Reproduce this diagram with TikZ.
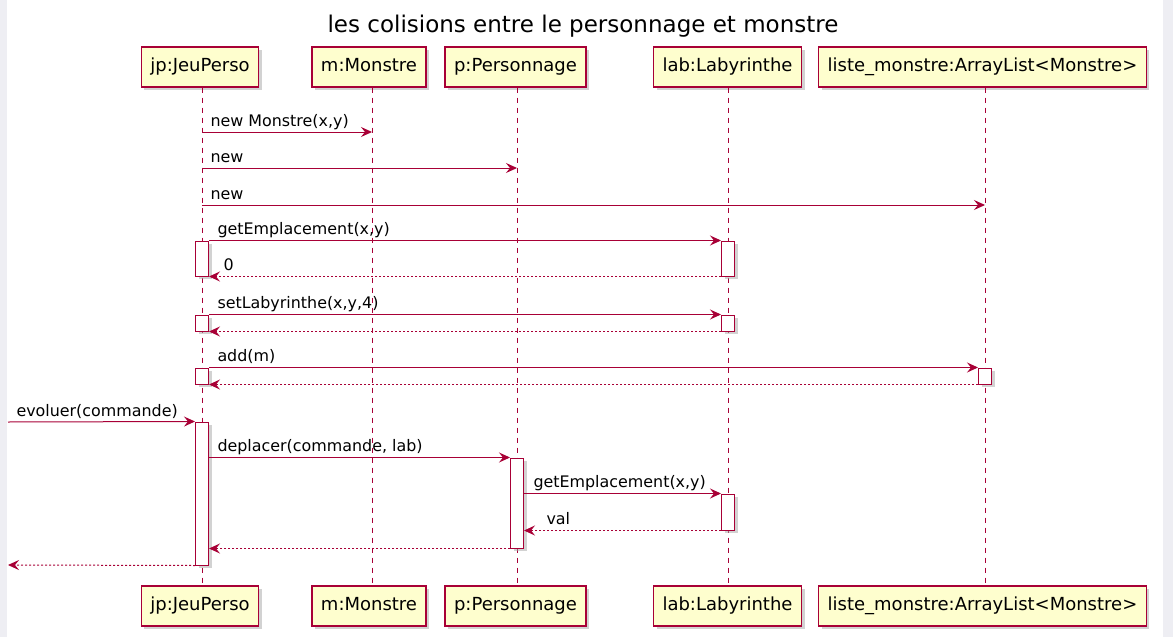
\documentclass[tikz,border=0pt]{standalone}
\usepackage{fontspec}
\setmainfont{DejaVu Sans}
\usetikzlibrary{arrows.meta,shadows}
\definecolor{plum}{RGB}{168,0,54}
\definecolor{boxfill}{RGB}{254,254,206}
\definecolor{pagebg}{RGB}{238,238,243}
\tikzset{
    ttl/.style={
        font=\fontsize{23}{28}\selectfont
    }
}

\begin{document}
\begin{tikzpicture}[x=1pt,y=-1pt, line cap=butt, line join=miter]

\tikzset{
  part/.style={rectangle, draw=plum, fill=boxfill, line width=1.2pt, inner xsep=9pt, inner ysep=0pt,
    text height=14pt, text depth=5pt, minimum height=40pt, font=\fontsize{18}{22}\selectfont,
    drop shadow={shadow xshift=3pt, shadow yshift=-3pt, fill=black!35}},
  act/.style={rectangle, draw=plum, fill=white, line width=1pt, minimum width=13pt, inner sep=0pt,
    drop shadow={shadow xshift=3pt, shadow yshift=-3pt, fill=black!35}},
  life/.style={draw=plum, line width=1pt, dash pattern=on 5pt off 5pt},
  msg/.style={draw=plum, line width=1pt, -{Stealth[length=11pt,width=10pt,inset=4pt]}},
  ret/.style={msg, dash pattern=on 2pt off 2pt},
  lbl/.style={font=\fontsize{15.9}{19}\selectfont, inner sep=0pt, anchor=base west, yshift=6pt},
}

% background
\useasboundingbox (0,0) rectangle (1173,637);
\fill[pagebg] (0,0) rectangle (1173,637);
\fill[white] (7,0) rectangle (1163,637);

\node[ttl] (title) at (583,26) {les colisions entre le personnage et monstre};

% participants, top and bottom
\node[part] (jpT) at (200,67) {jp:JeuPerso};
\node[part] (mT) at (369,67) {m:Monstre};
\node[part] (pT) at (515.5,67) {p:Personnage};
\node[part] (labT) at (727.5,67) {lab:Labyrinthe};
\node[part] (lstT) at (982.5,67) {liste\_monstre:ArrayList<Monstre>};

\node[part] (jpB) at (200,606) {jp:JeuPerso};
\node[part] (mB) at (369,606) {m:Monstre};
\node[part] (pB) at (515.5,606) {p:Personnage};
\node[part] (labB) at (727.5,606) {lab:Labyrinthe};
\node[part] (lstB) at (982.5,606) {liste\_monstre:ArrayList<Monstre>};

% lifelines
\draw[life] ([xshift=2pt]jpT.south) -- ([xshift=2pt]jpB.north);
\draw[life] ([xshift=3pt]mT.south) -- ([xshift=3pt]mB.north);
\draw[life] ([xshift=1.5pt]pT.south) -- ([xshift=1.5pt]pB.north);
\draw[life] ([xshift=0.5pt]labT.south) -- ([xshift=0.5pt]labB.north);
\draw[life] ([xshift=2.5pt]lstT.south) -- ([xshift=2.5pt]lstB.north);

% message rows
\coordinate (r1) at (0,132);
\coordinate (r2) at (0,168);
\coordinate (r3) at (0,205);
\coordinate (in) at (8,422);
\coordinate (out) at (8,565);
\coordinate (jpL) at (202,0);
\coordinate (mL) at (372,0);
\coordinate (pL) at (517,0);
\coordinate (lstL) at (985,0);

% activations
\node[act, minimum height=35pt] (a1) at (202,258.5) {};
\node[act, minimum height=35pt] (a2) at (728,258.5) {};
\node[act, minimum height=16pt] (a3) at (202,323) {};
\node[act, minimum height=16pt] (a4) at (728,323) {};
\node[act, minimum height=16pt] (a5) at (202,376) {};
\node[act, minimum height=16pt] (a6) at (985,376) {};
\node[act, minimum height=143pt] (a7) at (202,493.5) {};
\node[act, minimum height=90pt] (a8) at (517,503) {};
\node[act, minimum height=36pt] (a9) at (728,512) {};

% creation
\draw[msg] (jpL |- r1) -- node[lbl, pos=0, xshift=8pt] {new Monstre(x,y)} (mL |- r1);
\draw[msg] (jpL |- r2) -- node[lbl, pos=0, xshift=8pt] {new} (pL |- r2);
\draw[msg] (jpL |- r3) -- node[lbl, pos=0, xshift=8pt] {new} (lstL |- r3);

% labyrinthe calls
\draw[msg] (a1.north east) -- node[lbl, pos=0, xshift=8pt] {getEmplacement(x,y)} (a2.north west);
\draw[ret] (a2.south west) -- node[lbl, pos=1, xshift=14pt] {0} (a1.south east);
\draw[msg] (a3.north east) -- node[lbl, pos=0, xshift=8pt] {setLabyrinthe(x,y,4)} (a4.north west);
\draw[ret] (a4.south west) -- (a3.south east);
\draw[msg] (a5.north east) -- node[lbl, pos=0, xshift=8pt] {add(m)} (a6.north west);
\draw[ret] (a6.south west) -- (a5.south east);

% evoluer
\draw[msg] (in) -- node[lbl, pos=0, xshift=8pt] {evoluer(commande)} (a7.north west);
\draw[msg] (a7.east |- a8.north) -- node[lbl, pos=0, xshift=8pt] {deplacer(commande, lab)} (a8.north west);
\draw[msg] (a8.east |- a9.north) -- node[lbl, pos=0, xshift=9pt] {getEmplacement(x,y)} (a9.north west);
\draw[ret] (a9.south west) -- node[lbl, pos=1, xshift=22pt] {val} (a8.east |- a9.south);
\draw[ret] (a8.south west) -- (a7.east |- a8.south);
\draw[ret] (a7.south west) -- (out);

\end{tikzpicture}
\end{document}
